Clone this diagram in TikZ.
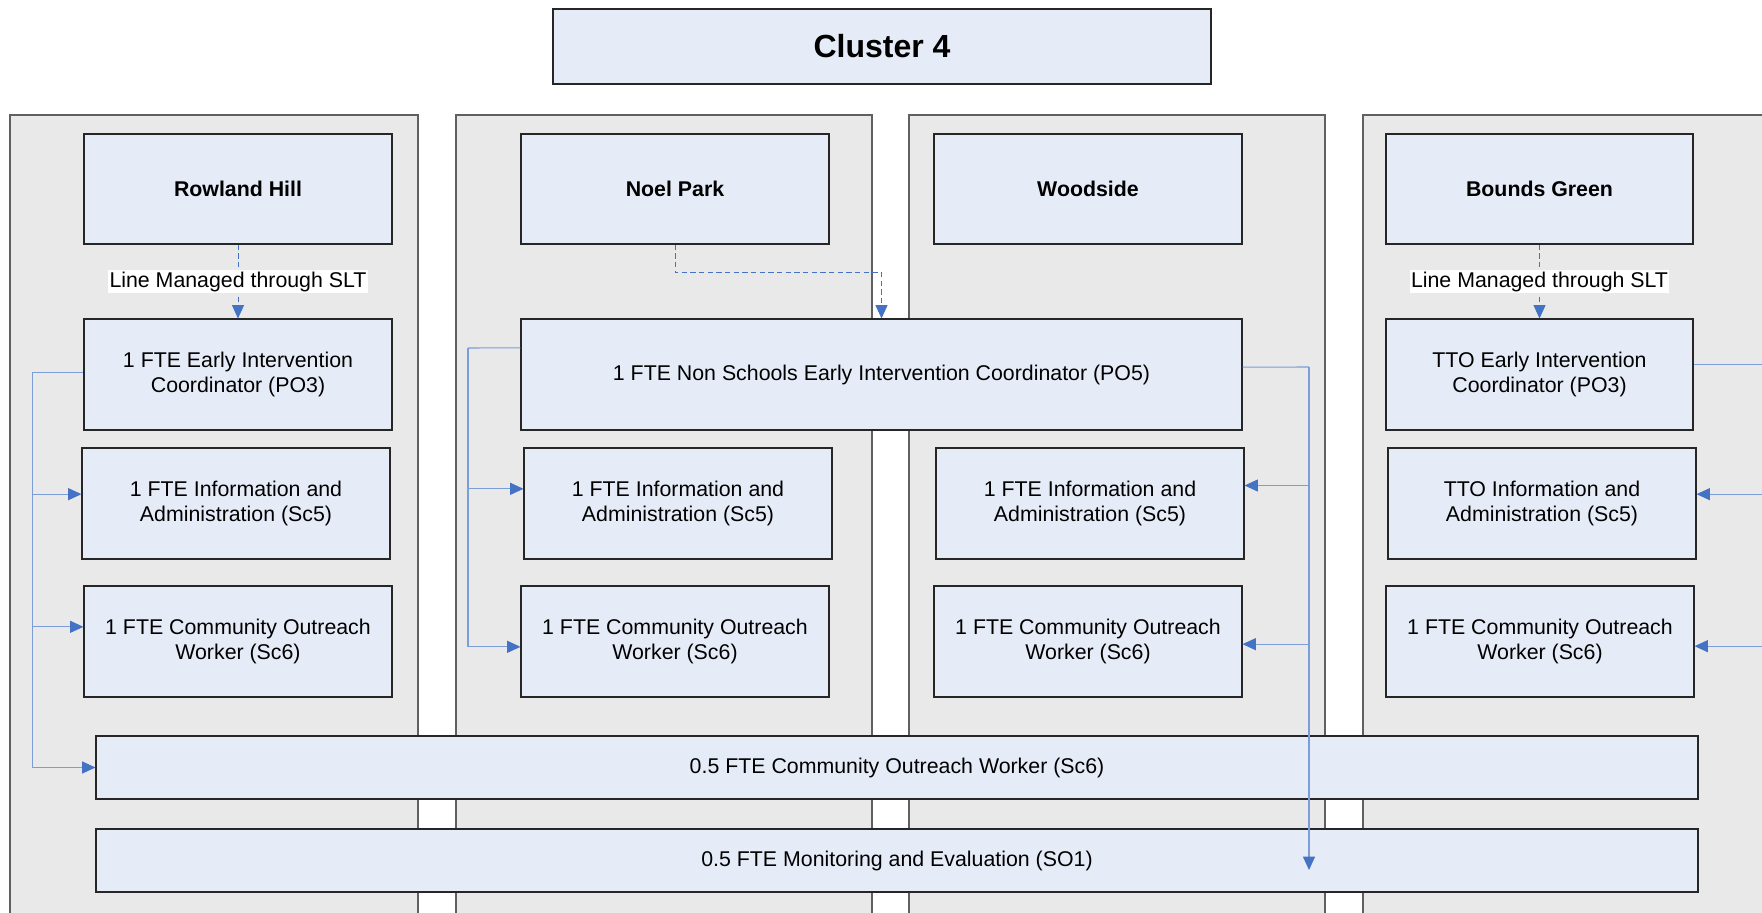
\documentclass[tikz,border=0pt]{standalone}
\usepackage{fontspec}
\setmainfont{Liberation Sans}
\usetikzlibrary{arrows.meta}
\definecolor{boxfill}{HTML}{E6ECF7}
\definecolor{panelfill}{HTML}{E9E9E9}
\definecolor{panelline}{HTML}{606060}
\definecolor{connline}{HTML}{7B9ED8}
\definecolor{arrowblue}{HTML}{4472C4}
\tikzset{
  span/.style n args={4}{minimum width={(#3-#1)*0.75pt}, minimum height={(#4-#2)*0.75pt},
    at={({(#1+#3)/2},{(#2+#4)/2})}},
  box/.style={draw=black!85, fill=boxfill, line width=0.8pt, inner sep=0pt, align=center,
    anchor=center, font=\fontsize{16}{19.4}\selectfont},
  titlebox/.style={box, font=\fontsize{16}{19.4}\selectfont\bfseries},
  panel/.style={draw=panelline, fill=panelfill, line width=0.8pt},
  conn/.style={draw=connline, line width=0.8pt},
  tipped/.style={-{Triangle[length=10pt,width=9pt,color=arrowblue]}},
  dashconn/.style={draw=arrowblue, line width=0.7pt, dash pattern=on 4pt off 2.5pt},
  lbl/.style={fill=white, inner xsep=1pt, inner ysep=1.5pt, font=\fontsize{16}{19.4}\selectfont}
}
\begin{document}
\begin{tikzpicture}[x=0.75pt,y=-0.75pt]
\path[use as bounding box] (0,0) rectangle (1762,913);
\clip (0,0) rectangle (1762,913);
% panels
\path[panel] (10,115) rectangle (418,930);
\path[panel] (456,115) rectangle (872,930);
\path[panel] (909,115) rectangle (1325,930);
\path[panel] (1363,115) rectangle (1790,930);
% cluster
\node[box, font=\fontsize{24}{28}\selectfont\bfseries, span={553}{9}{1211}{84}] (cl) {Cluster 4};
% titles
\node[titlebox, span={84}{134}{392}{244}] (rh) {Rowland Hill};
\node[titlebox, span={521}{134}{829}{244}] (np) {Noel Park};
\node[titlebox, span={934}{134}{1242}{244}] (ws) {Woodside};
\node[titlebox, span={1386}{134}{1693}{244}] (bg) {Bounds Green};
% coordinator row
\node[box, span={84}{319}{392}{430}] (rpo) {1 FTE Early Intervention\\Coordinator (PO3)};
\node[box, span={521}{319}{1242}{430}] (nsc) {1 FTE Non Schools Early Intervention Coordinator (PO5)};
\node[box, span={1386}{319}{1693}{430}] (tpo) {TTO Early Intervention\\Coordinator (PO3)};
% info row
\node[box, span={82}{448}{390}{559}] (ri) {1 FTE Information and\\Administration (Sc5)};
\node[box, span={524}{448}{832}{559}] (ni) {1 FTE Information and\\Administration (Sc5)};
\node[box, span={936}{448}{1244}{559}] (wi) {1 FTE Information and\\Administration (Sc5)};
\node[box, span={1388}{448}{1696}{559}] (bi) {TTO Information and\\Administration (Sc5)};
% community row
\node[box, span={84}{586}{392}{697}] (rc) {1 FTE Community Outreach\\Worker (Sc6)};
\node[box, span={521}{586}{829}{697}] (nc) {1 FTE Community Outreach\\Worker (Sc6)};
\node[box, span={934}{586}{1242}{697}] (wc) {1 FTE Community Outreach\\Worker (Sc6)};
\node[box, span={1386}{586}{1694}{697}] (bc) {1 FTE Community Outreach\\Worker (Sc6)};
% wide boxes
\node[box, span={96}{736}{1698}{799}] (half) {0.5 FTE Community Outreach Worker (Sc6)};
\node[box, span={96}{829}{1698}{892}] (mon) {0.5 FTE Monitoring and Evaluation (SO1)};
% attachment points
\coordinate (riin) at ([yshift=7pt]ri.west);
\coordinate (rcin) at ([yshift=11pt]rc.west);
\coordinate (niin) at ([yshift=11pt]ni.west);
\coordinate (ncin) at ([yshift=-4pt]nc.west);
\coordinate (wiin) at ([yshift=13.5pt]wi.east);
\coordinate (wcin) at ([yshift=-2pt]wc.east);
\coordinate (biin) at ([yshift=7pt]bi.east);
\coordinate (bcin) at ([yshift=-3.5pt]bc.east);
\coordinate (rpoout) at ([yshift=1.5pt]rpo.west);
\coordinate (nscl) at ([yshift=20pt]nsc.west);
\coordinate (nscr) at ([yshift=5.5pt]nsc.east);
\coordinate (tpoout) at ([yshift=7.5pt]tpo.east);
\coordinate (monin) at (1309,870);
\coordinate (edge) at (1790,0);
% dashed line management
\draw[dashconn, tipped] (rh.south) -- node[lbl] {Line Managed through SLT} (rpo.north);
\draw[dashconn, tipped] (bg.south) -- node[lbl] {Line Managed through SLT} (tpo.north);
\draw[dashconn, tipped] (np.south) -- ++(0,28) -| (nsc.north);
% Rowland Hill connectors
\draw[conn] (rpoout) -- ++(-51,0) coordinate (t1);
\draw[conn, tipped] (t1) |- (half.west);
\draw[conn, tipped] (t1 |- riin) -- (riin);
\draw[conn, tipped] (t1 |- rcin) -- (rcin);
% Noel Park connectors
\draw[conn] (nscl) -- (468,348) coordinate (t2);
\draw[conn, tipped] (t2) |- (ncin);
\draw[conn, tipped] (t2 |- niin) -- (niin);
% Woodside connectors
\draw[conn] (nscr) -- (1309,367) coordinate (t3);
\draw[conn, tipped] (t3) -- (monin);
\draw[conn, tipped] (t3 |- wiin) -- (wiin);
\draw[conn, tipped] (t3 |- wcin) -- (wcin);
% Bounds Green connectors
\draw[conn] (tpoout) -- (tpoout -| edge);
\draw[conn, tipped] (biin -| edge) -- (biin);
\draw[conn, tipped] (bcin -| edge) -- (bcin);
\end{tikzpicture}
\end{document}
